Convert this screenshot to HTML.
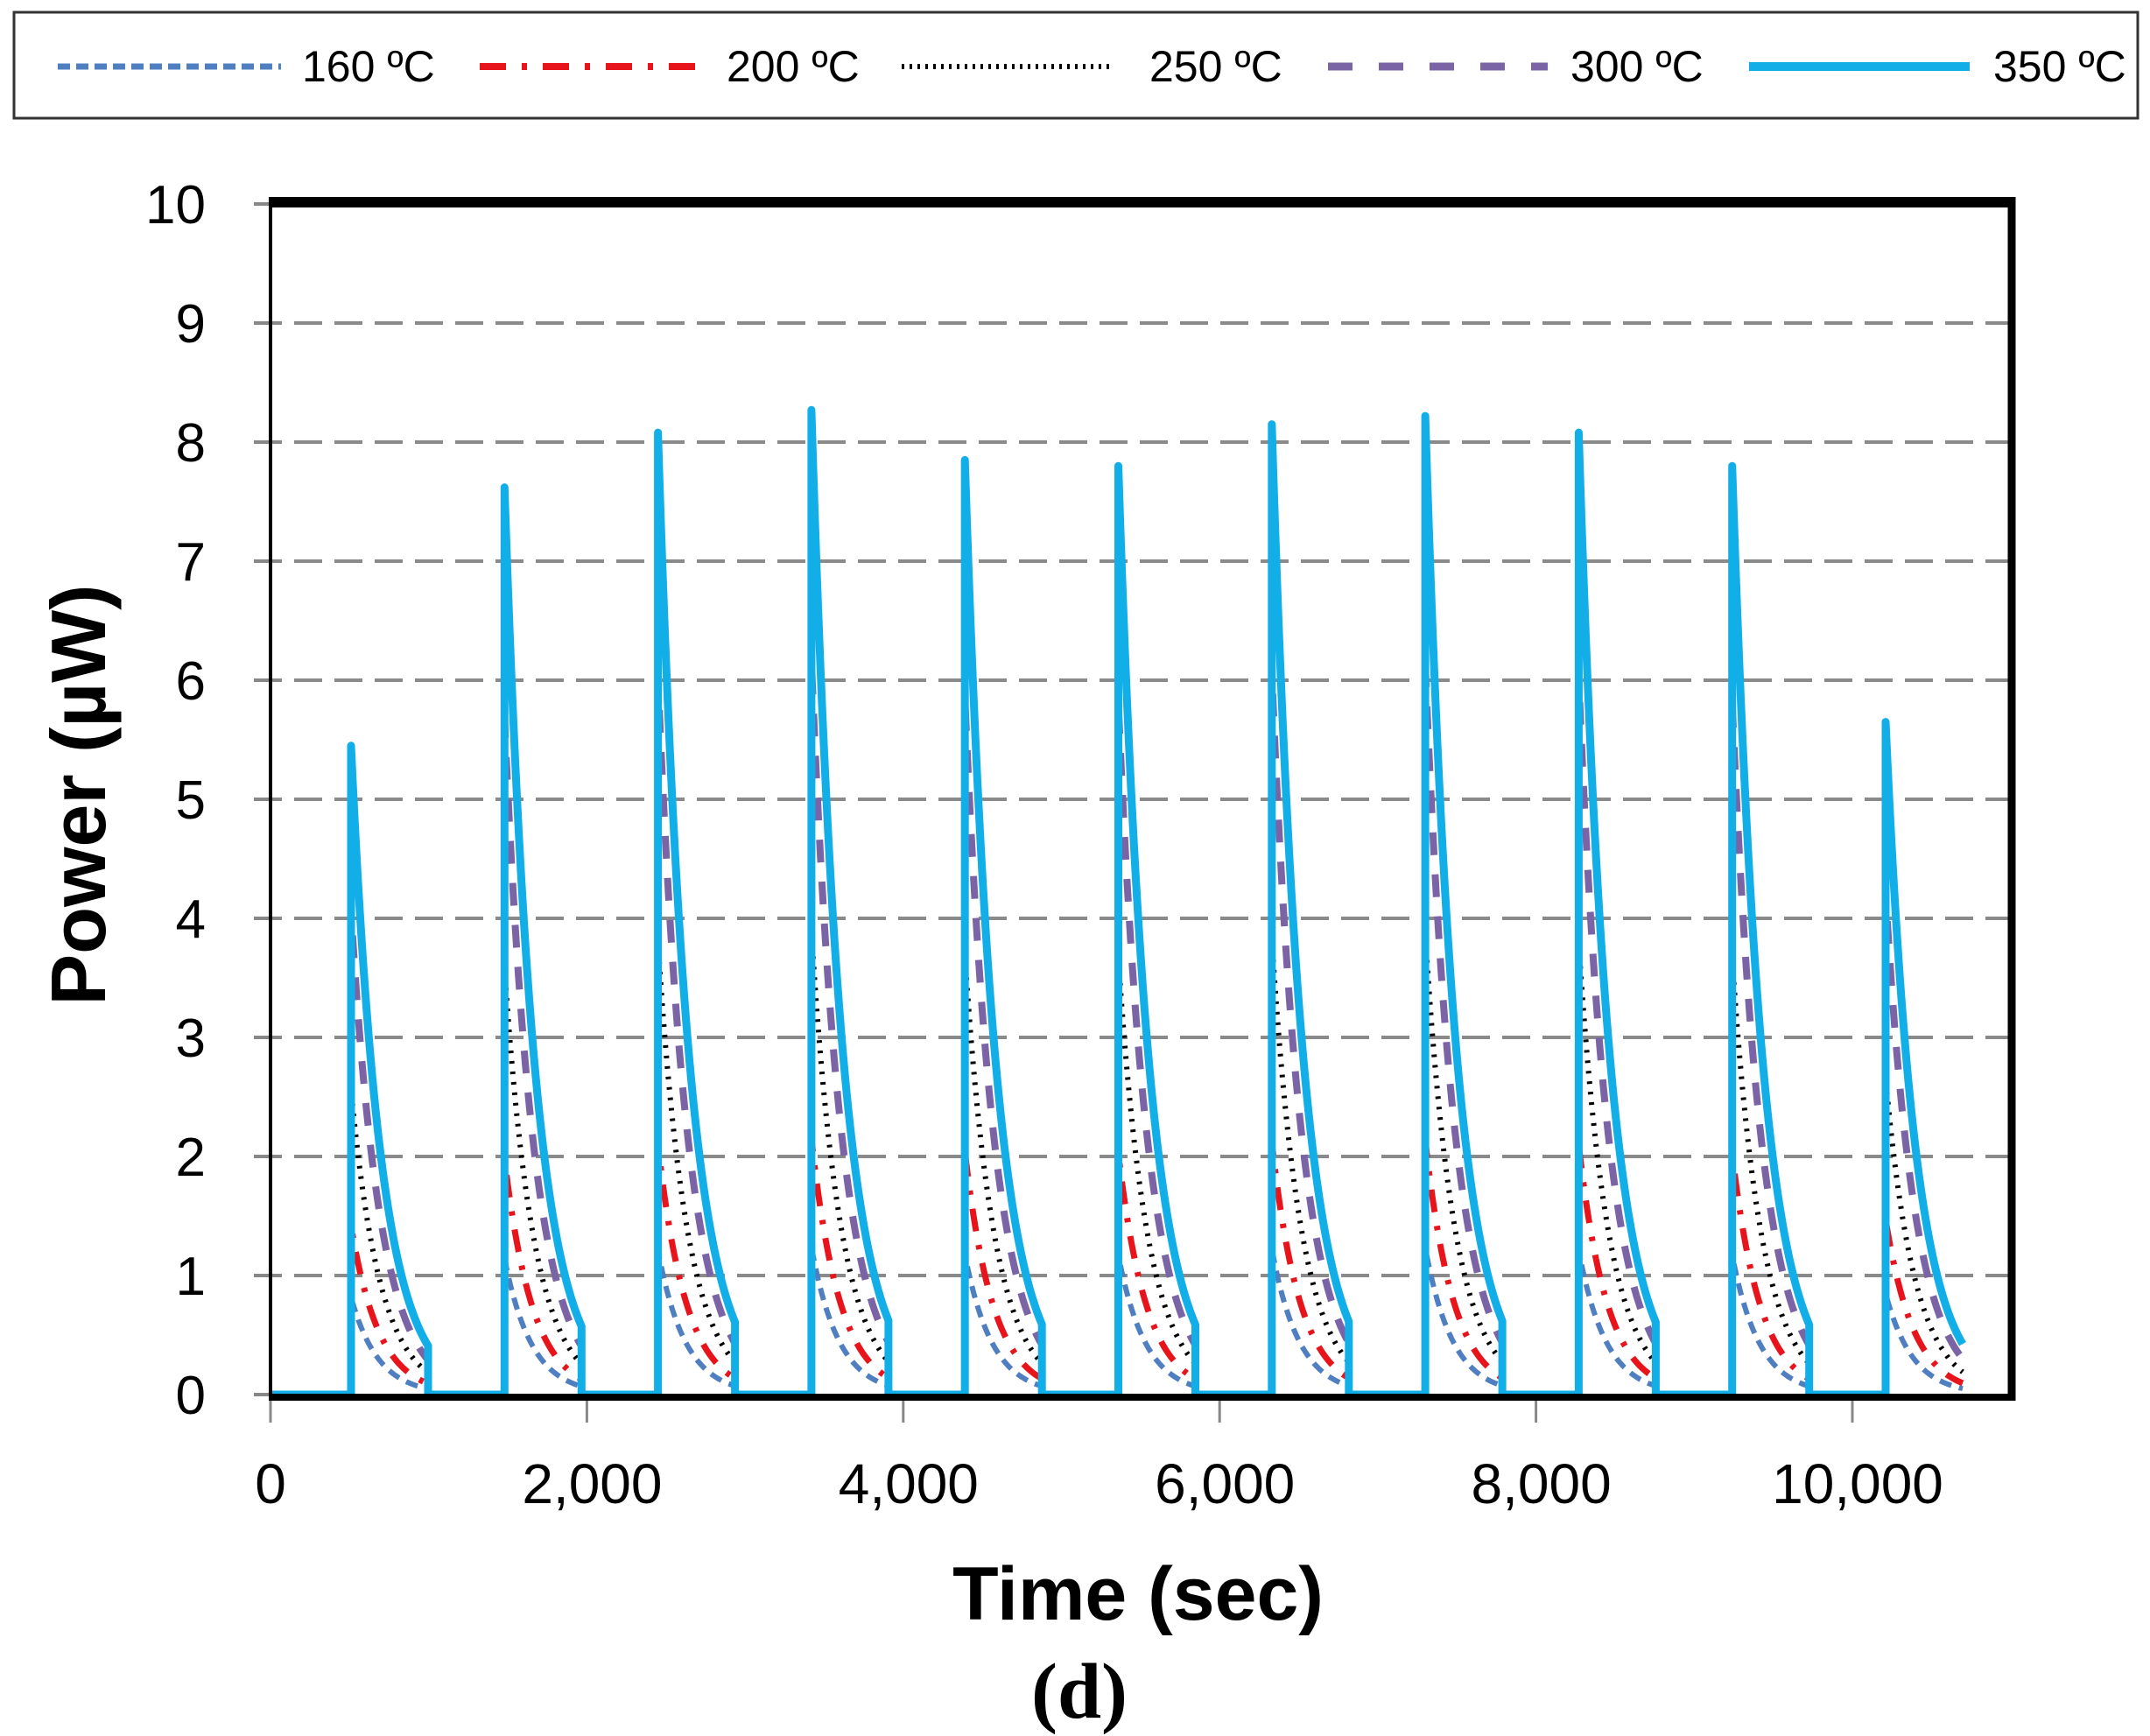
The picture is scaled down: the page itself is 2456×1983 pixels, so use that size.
<!DOCTYPE html>
<html><head><meta charset="utf-8"><style>
html,body{margin:0;padding:0;background:#fff;}
svg{display:block;}
text{font-family:"Liberation Sans","DejaVu Sans",sans-serif;}
</style></head><body>
<svg id="s" width="2456" height="1983" viewBox="0 0 2456 1983" xmlns="http://www.w3.org/2000/svg">
<rect x="16" y="14" width="2426" height="121" fill="#fff" stroke="#333" stroke-width="3"/>
<line x1="66" y1="76" x2="321" y2="76" stroke="#4f7fc0" stroke-width="7" stroke-dasharray="14,7"/>
<text x="345" y="93" font-size="50">160 ºC</text>
<line x1="548" y1="76" x2="799" y2="76" stroke="#e8141c" stroke-width="8" stroke-dasharray="30,18,6,18"/>
<text x="830" y="93" font-size="50">200 ºC</text>
<line x1="1030" y1="76" x2="1272" y2="76" stroke="#000" stroke-width="6" stroke-dasharray="3,6"/>
<text x="1313" y="93" font-size="50">250 ºC</text>
<line x1="1517" y1="76" x2="1768" y2="76" stroke="#7b64a6" stroke-width="9" stroke-dasharray="28,30"/>
<text x="1794" y="93" font-size="50">300 ºC</text>
<line x1="1998" y1="76" x2="2250" y2="76" stroke="#12aee8" stroke-width="10"/>
<text x="2277" y="93" font-size="50">350 ºC</text>
<g id="grid"></g>
<g id="series"></g>
<g id="axes"></g>
<text x="1300" y="1850" font-size="86" font-weight="bold" text-anchor="middle">Time (sec)</text>
<text transform="translate(120,908) rotate(-90)" font-size="88" font-weight="bold" text-anchor="middle">Power (µW)</text>
<text x="1233" y="1962" font-size="90" font-weight="bold" text-anchor="middle" style="font-family:'Liberation Serif',serif">(d)</text>
</svg>
<script>
var NS="http://www.w3.org/2000/svg";
function el(p,t,a,txt){var e=document.createElementNS(NS,t);for(var k in a)e.setAttribute(k,a[k]);if(txt!==undefined)e.textContent=txt;document.getElementById(p).appendChild(e);return e;}
var L=309,R=2298,T=233,B=1593,U=136;
for(var i=1;i<=9;i++){var y=B-i*U;el("grid","line",{x1:290,y1:y,x2:R,y2:y,stroke:"#8a8a8a","stroke-width":4,"stroke-dasharray":"32,14"});}
for(var i=0;i<=10;i++){var y=B-i*U;el("axes","text",{x:235,y:y+22,"font-size":62,"text-anchor":"end"},String(i));el("axes","line",{x1:290,y1:y,x2:L,y2:y,stroke:"#888","stroke-width":4});}
var xl=["0","2,000","4,000","6,000","8,000","10,000"];
for(var i=0;i<6;i++){var x=L+i*361.4;el("axes","line",{x1:x,y1:B,x2:x,y2:B+32,stroke:"#888","stroke-width":3});el("axes","text",{x:x+(i==0?0:6),y:1717,"font-size":64,"text-anchor":"middle"},xl[i]);}
var peaks=[5.45,7.62,8.08,8.27,7.85,7.8,8.15,8.22,8.08,7.8,5.65];
var st=[{c:"#4f7fc0",w:6,d:"14,9",r:0.15,k:0.032},{c:"#e8141c",w:7,d:"26,16,5,16",r:0.26,k:0.031},{c:"#000",w:6,d:"3,9",r:0.47,k:0.03},{c:"#7b64a6",w:8,d:"26,22",r:0.745,k:0.03},{c:"#12aee8",w:9,d:"none",r:1,k:0.0294}];
var P=175.3,x0=401,W=88;
st.forEach(function(s){
 var d="M"+L+","+B;
 for(var p=0;p<11;p++){
  var xs=x0+p*P, xe=xs+W, pk=peaks[p]*s.r;
  d+=" L"+xs+","+B+" L"+xs+","+(B-pk*U);
  for(var dx=2;dx<=W;dx+=2){d+=" L"+(xs+dx)+","+(B-pk*Math.exp(-s.k*dx)*U).toFixed(1);}
  if(p<10) d+=" L"+xe+","+B;
 }
 var a={d:d,fill:"none",stroke:s.c,"stroke-width":s.w,"stroke-linejoin":"round"};
 if(s.d!="none")a["stroke-dasharray"]=s.d;
 el("series","path",a);
});
el("axes","line",{x1:L,y1:B+3,x2:R+4,y2:B+3,stroke:"#000","stroke-width":8});
el("axes","line",{x1:L,y1:T-2,x2:R+4,y2:T-2,stroke:"#000","stroke-width":12});
el("axes","line",{x1:R,y1:T-8,x2:R,y2:B+7,stroke:"#000","stroke-width":9});
el("axes","line",{x1:L,y1:T-8,x2:L,y2:B+7,stroke:"#000","stroke-width":4});
</script>
</body></html>
